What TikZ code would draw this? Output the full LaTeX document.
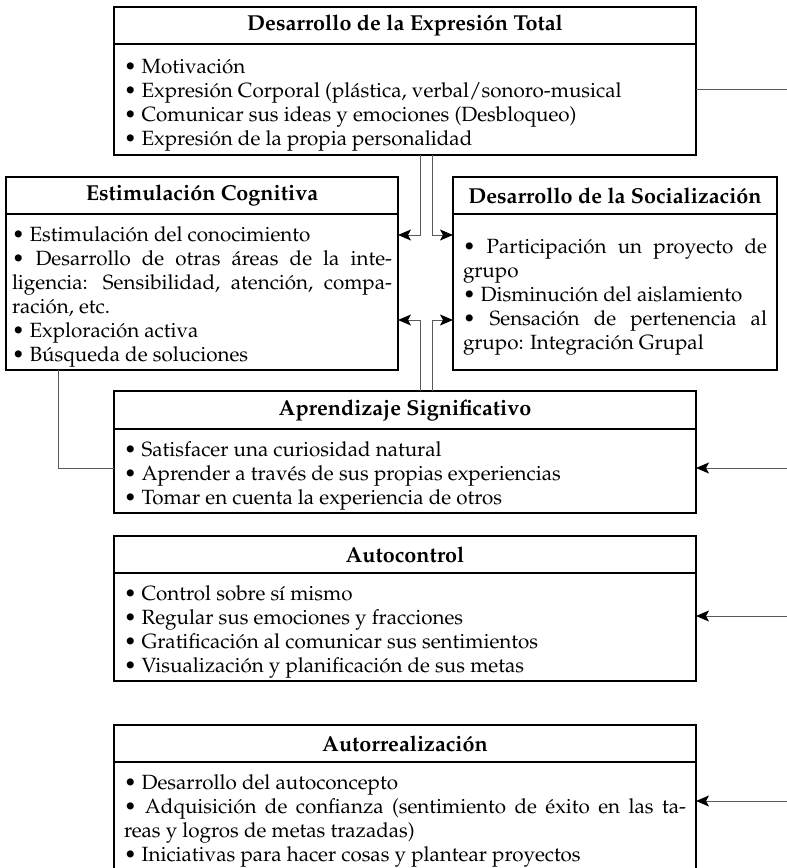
\documentclass[tikz,border=0pt]{standalone}
\usepackage[T1]{fontenc}
\usepackage{mathpazo}
\usetikzlibrary{positioning,arrows.meta}
\hyphenpenalty=10000
\tolerance=9999
\newcommand{\lowstrut}{\rule{0pt}{12.5pt}}

\begin{document}
\begin{tikzpicture}[x=0.5pt, y=-0.5pt,
                    boxhead/.style={draw, line width=0.8pt, outer sep=0pt, inner sep=0pt,
                                    anchor=north west, font=\fontsize{10.8}{12}\selectfont\bfseries,
                                    minimum height=18.5pt},
                    boxbody/.style={draw, line width=0.8pt, outer sep=0pt, inner xsep=5pt, inner ysep=0pt,
                                    font=\fontsize{10.3}{12}\selectfont, align=justify, text width=#1},
                    link/.style={draw=black!65, line width=0.5pt},
                    into/.style={link, -{Stealth[length=6.5pt,width=5.5pt,inset=1.5pt,color=black]}}
]
\useasboundingbox (0,0) rectangle (787,868);

\node [boxhead, minimum width=291pt] at (114,7) (exprhead) {Desarrollo de la Expresión Total};
\node [boxbody=281pt, minimum height=55.5pt, below=0pt of exprhead] (exprbody)
  {\lowstrut\textbullet\ Motivación\par
   \textbullet\ Expresión Corporal (plástica, verbal/sonoro-musical\par
   \textbullet\ Comunicar sus ideas y emociones (Desbloqueo)\par
   \textbullet\ Expresión de la propia personalidad};
%
\node [boxhead, minimum width=196pt] at (6,177) (coghead) {Estimulación Cognitiva};
\node [boxbody=190pt, inner xsep=3pt, minimum height=78pt, below=0pt of coghead] (cogbody)
  {\lowstrut\textbullet\ Estimulación del conocimiento\par
   \textbullet\ Desarrollo de otras áreas de la inte-\linebreak ligencia: Sensibilidad, atención, compa-\linebreak ración, etc.\par
   \textbullet\ Exploración activa\par
   \textbullet\ Búsqueda de soluciones};
%
\node [boxhead, minimum width=162pt] at (453,177) (sochead) {Desarrollo de la Socialización};
\node [boxbody=152pt, minimum height=78pt, below=0pt of sochead] (socbody)
  {\lowstrut\textbullet\ Participación un proyecto de\linebreak grupo\par
   \textbullet\ Disminución del aislamiento\par
   \textbullet\ Sensación de pertenencia al\linebreak grupo: Integración Grupal};
%
\node [boxhead, minimum width=291pt, minimum height=19pt] at (114,391) (apphead) {Aprendizaje Significativo};
\node [boxbody=281pt, minimum height=42pt, below=0pt of apphead] (appbody)
  {\lowstrut\textbullet\ Satisfacer una curiosidad natural\par
   \textbullet\ Aprender a través de sus propias experiencias\par
   \textbullet\ Tomar en cuenta la experiencia de otros};
%
\node [boxhead, minimum width=291pt] at (114,536) (ctrlhead) {Autocontrol};
\node [boxbody=281pt, minimum height=54pt, below=0pt of ctrlhead] (ctrlbody)
  {\lowstrut\textbullet\ Control sobre sí mismo\par
   \textbullet\ Regular sus emociones y fracciones\par
   \textbullet\ Gratificación al comunicar sus sentimientos\par
   \textbullet\ Visualización y planificación de sus metas};
%
\node [boxhead, minimum width=291pt] at (114,725) (realhead) {Autorrealización};
\node [boxbody=281pt, minimum height=54pt, below=0pt of realhead] (realbody)
  {\lowstrut\textbullet\ Desarrollo del autoconcepto\par
   \textbullet\ Adquisición de confianza (sentimiento de éxito en las ta-\linebreak reas y logros de metas trazadas)\par
   \textbullet\ Iniciativas para hacer cosas y plantear proyectos};
%
\coordinate (exprout) at (787,89);
\coordinate (appin) at (787,468);
\coordinate (ctrlin) at (787,616);
\coordinate (realin) at (787,801);
\coordinate (railL) at (420,235);
\coordinate (railR) at (432,235);
\coordinate (railL2) at (420,320);
\coordinate (railR2) at (432,320);
\coordinate (cogdrop) at (58,468);
%
\draw [link] (exprbody.east |- exprout) -- (exprout);
\draw [into] (exprbody.south -| railL) |- (cogbody.east |- railL);
\draw [into] (exprbody.south -| railR) |- (socbody.west |- railR);
\draw [into] (apphead.north -| railL2) |- (cogbody.east |- railL2);
\draw [into] (apphead.north -| railR2) |- (socbody.west |- railR2);
\draw [link] (cogbody.south -| cogdrop) |- (appbody.west |- cogdrop);
%
\draw [into] (appin) -- (appbody.east |- appin);
\draw [into] (ctrlin) -- (ctrlbody.east |- ctrlin);
\draw [into] (realin) -- (realbody.east |- realin);
\end{tikzpicture}
\end{document}
